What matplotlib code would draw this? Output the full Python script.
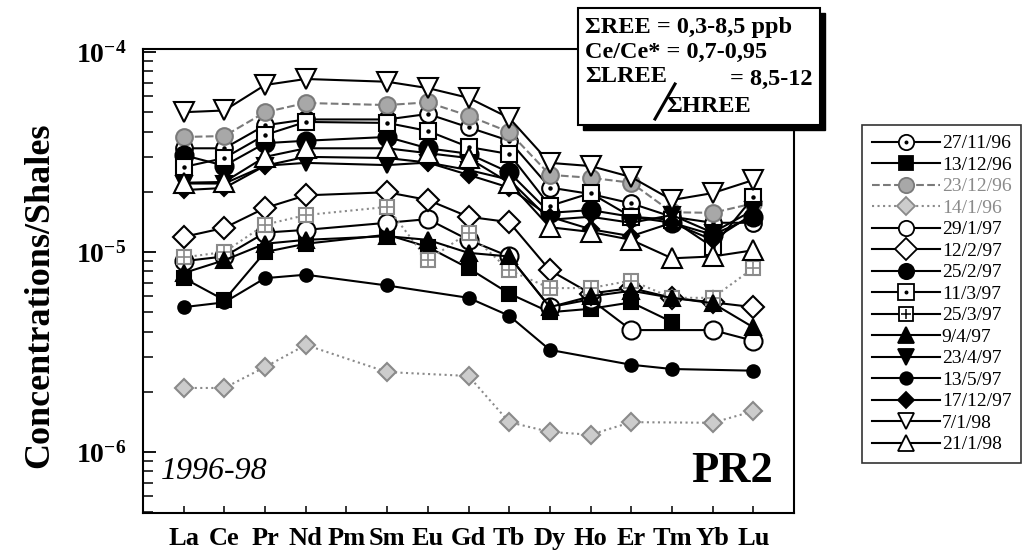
import numpy as np
import matplotlib
matplotlib.use("Agg")
import matplotlib.pyplot as plt
from matplotlib.lines import Line2D
from matplotlib.patches import Rectangle
from matplotlib.ticker import LogLocator, NullFormatter

plt.rcParams['font.family'] = ['Liberation Serif', 'DejaVu Serif']
plt.rcParams['mathtext.fontset'] = 'custom'
plt.rcParams['mathtext.rm'] = 'Liberation Serif'
plt.rcParams['mathtext.bf'] = 'Liberation Serif:bold'

# ---- data (normalised to shales), nan = not measured ----
elements = ['La', 'Ce', 'Pr', 'Nd', 'Pm', 'Sm', 'Eu', 'Gd', 'Tb', 'Dy', 'Ho', 'Er', 'Tm', 'Yb', 'Lu']
nan = np.nan

s27_11_96 = [3.3e-5, 3.3e-5, 4.3e-5, 4.6e-5, nan, 4.6e-5, 4.9e-5, 4.2e-5, 3.6e-5, 2.1e-5, 1.95e-5, 1.75e-5, 1.5e-5, 1.4e-5, 1.4e-5]
s13_12_96 = [7.4e-6, 5.75e-6, 1.0e-5, 1.1e-5, nan, 1.22e-5, 1.06e-5, 8.3e-6, 6.2e-6, 5.0e-6, 5.2e-6, 5.6e-6, 4.47e-6, nan, nan]
s23_12_96 = [3.76e-5, 3.8e-5, 5.0e-5, 5.56e-5, nan, 5.43e-5, 5.6e-5, 4.8e-5, 3.98e-5, 2.43e-5, 2.35e-5, 2.22e-5, 1.58e-5, 1.57e-5, 1.75e-5]
s14_1_96 = [2.09e-6, 2.09e-6, 2.66e-6, 3.43e-6, nan, 2.51e-6, nan, 2.4e-6, 1.41e-6, 1.26e-6, 1.22e-6, 1.41e-6, nan, 1.4e-6, 1.6e-6]
s29_1_97 = [9.0e-6, 9.5e-6, 1.25e-5, 1.29e-5, nan, 1.4e-5, 1.46e-5, 1.15e-5, 9.5e-6, 5.3e-6, 5.8e-6, 4.07e-6, nan, 4.07e-6, 3.6e-6]
s12_2_97 = [1.19e-5, 1.32e-5, 1.66e-5, 1.92e-5, nan, 1.99e-5, 1.82e-5, 1.5e-5, 1.41e-5, 8.1e-6, 6.2e-6, 6.6e-6, 5.9e-6, 5.6e-6, 5.3e-6]
s25_2_97 = [3.05e-5, 2.7e-5, 3.5e-5, 3.6e-5, nan, 3.76e-5, 3.3e-5, 3.1e-5, 2.5e-5, 1.57e-5, 1.62e-5, 1.5e-5, 1.4e-5, 1.22e-5, 1.5e-5]
s11_3_97 = [2.66e-5, 2.95e-5, 3.85e-5, 4.47e-5, nan, 4.42e-5, 4.03e-5, 3.35e-5, 3.09e-5, 1.7e-5, 1.97e-5, 1.5e-5, 1.45e-5, 1.06e-5, 1.88e-5]
s25_3_97 = [9.4e-6, 1.0e-5, 1.37e-5, 1.53e-5, nan, 1.68e-5, 9.1e-6, 1.25e-5, 8.1e-6, 6.6e-6, 6.6e-6, 7.2e-6, 5.9e-6, 5.9e-6, 8.3e-6]
s9_4_97 = [7.85e-6, 9.1e-6, 1.1e-5, 1.15e-5, nan, 1.2e-5, 1.15e-5, 9.9e-6, 9.5e-6, 5.3e-6, 6.0e-6, 6.4e-6, 5.9e-6, 5.55e-6, 4.2e-6]
s23_4_97 = [2.2e-5, 2.2e-5, 2.7e-5, 2.79e-5, nan, 2.72e-5, 2.8e-5, 2.57e-5, 2.3e-5, 1.45e-5, 1.5e-5, 1.4e-5, 1.53e-5, 1.25e-5, 1.62e-5]
s13_5_97 = [5.3e-6, 5.6e-6, 7.4e-6, 7.7e-6, nan, 6.8e-6, nan, 5.9e-6, 4.8e-6, 3.24e-6, nan, 2.73e-6, 2.6e-6, nan, 2.55e-6]
s17_12_97 = [2.04e-5, 2.09e-5, 2.7e-5, 2.99e-5, nan, 2.95e-5, 2.8e-5, 2.43e-5, 2.1e-5, 1.5e-5, 1.3e-5, 1.2e-5, 1.4e-5, 1.15e-5, 1.55e-5]
s7_1_98 = [5.0e-5, 5.1e-5, 6.84e-5, 7.33e-5, nan, 7.1e-5, 6.6e-5, 5.9e-5, 4.68e-5, 2.79e-5, 2.69e-5, 2.37e-5, 1.82e-5, 1.97e-5, 2.29e-5]
s21_1_98 = [2.22e-5, 2.24e-5, 2.99e-5, 3.3e-5, nan, 3.3e-5, 3.12e-5, 2.95e-5, 2.22e-5, 1.33e-5, 1.26e-5, 1.15e-5, 9.3e-6, 9.5e-6, 1.02e-5]

labels = ['27/11/96', '13/12/96', '23/12/96', '14/1/96', '29/1/97', '12/2/97', '25/2/97', '11/3/97',
          '25/3/97', '9/4/97', '23/4/97', '13/5/97', '17/12/97', '7/1/98', '21/1/98']
series = [s27_11_96, s13_12_96, s23_12_96, s14_1_96, s29_1_97, s12_2_97, s25_2_97, s11_3_97,
          s25_3_97, s9_4_97, s23_4_97, s13_5_97, s17_12_97, s7_1_98, s21_1_98]

# style per series: marker, size, face, edge, line colour, linestyle, overlay marker
W = 'white'
K = 'black'
styles = [
    ('o', 12, W, K, K, '-', '.'),
    ('s', 10, K, K, K, '-', None),
    ('o', 12, '#a8a8a8', '#7a7a7a', '#7a7a7a', '--', None),
    ('D', 9, '#cccccc', '#8a8a8a', '#8a8a8a', ':', None),
    ('o', 13, W, K, K, '-', None),
    ('D', 11, W, K, K, '-', None),
    ('o', 13, K, K, K, '-', None),
    ('s', 11, W, K, K, '-', '.'),
    ('s', 10, W, '#8a8a8a', '#8a8a8a', ':', '+'),
    ('^', 11, K, K, K, '-', None),
    ('v', 11, K, K, K, '-', None),
    ('o', 9, K, K, K, '-', None),
    ('D', 8, K, K, K, '-', None),
    ('v', 15, W, K, K, '-', None),
    ('^', 14, W, K, K, '-', None),
]

fig = plt.figure(figsize=(10.24, 5.57), dpi=100)
ax = fig.add_axes([143/1024, 44/557, (794-143)/1024, (513-49)/557])

x = np.arange(len(elements))
for vals, st in zip(series, styles):
    mk, ms, fc, ec, lc, ls, over = st
    v = np.array(vals, dtype=float)
    m = ~np.isnan(v)
    ax.plot(x[m], v[m], color=lc, ls=ls, lw=1.5, marker=mk, ms=ms,
            mfc=fc, mec=ec, mew=1.5)
    if over is not None:
        ax.plot(x[m], v[m], ls='none', marker=over, ms=4 if over == '.' else 8,
                color=ec, mew=1.2)

ax.set_yscale('log')
ax.set_ylim(10**-6.305, 10**-3.985)
ax.set_xlim(-1, 15)
ax.set_yticks([1e-6, 1e-5, 1e-4])
ax.set_yticklabels([r'$\mathbf{10^{-6}}$', r'$\mathbf{10^{-5}}$', r'$\mathbf{10^{-4}}$'], fontsize=20)
ax.yaxis.set_minor_locator(LogLocator(base=10, subs=np.arange(2, 10)))
ax.yaxis.set_minor_formatter(NullFormatter())
ax.set_xticks(x)
ax.set_xticklabels(elements, fontsize=19, fontweight='bold')
ax.tick_params(axis='y', which='major', direction='in', length=9, width=1.3, pad=12)
ax.tick_params(axis='y', which='minor', direction='in', length=7, width=1.1)
ax.tick_params(axis='x', direction='in', length=5, width=1.1, pad=10)
for sp in ax.spines.values():
    sp.set_linewidth(1.5)

ax.text(0.028, 0.09, '1996-98', transform=ax.transAxes, fontsize=23, style='italic',
        ha='left', va='center')
ax.text(0.968, 0.09, 'PR2', transform=ax.transAxes, fontsize=32, fontweight='bold',
        ha='right', va='center')

fig.text(40/1024, 1-295/557, 'Concentrations/Shales', rotation=90, fontsize=26,
         fontweight='bold', ha='center', va='center')

# ---- info box with shadow ----
bx0, by0, bx1, by1 = 578, 8, 820, 125   # pixels from top-left


def fx(px):
    return px / 1024


def fy(py):
    return 1 - py / 557


fig.patches.append(Rectangle((fx(bx0+5), fy(by1+5)), fx(bx1-bx0), (by1-by0)/557,
                             transform=fig.transFigure, facecolor=K, edgecolor=K, zorder=5))
fig.patches.append(Rectangle((fx(bx0), fy(by1)), fx(bx1-bx0), (by1-by0)/557,
                             transform=fig.transFigure, facecolor=W, edgecolor=K, lw=1.5, zorder=6))
tkw = dict(fontsize=17.5, fontweight='bold', va='center', zorder=7)
fig.text(fx(585), fy(27), '\u03a3REE = 0,3-8,5 ppb', ha='left', **tkw)
fig.text(fx(585), fy(52), 'Ce/Ce* = 0,7-0,95', ha='left', **tkw)
fig.text(fx(585), fy(77), '\u03a3LREE', ha='left', **tkw)
fig.text(fx(666), fy(106), '\u03a3HREE', ha='left', **tkw)
fig.text(fx(813), fy(79), '= 8,5-12', ha='right', **tkw)
fig.lines.append(Line2D([fx(655), fx(675)], [fy(119), fy(84)], transform=fig.transFigure,
                        color=K, lw=2.2, zorder=7))

# ---- legend ----
handles = []
for st in styles:
    mk, ms, fc, ec, lc, ls, over = st
    lms = min(ms, 11)
    if labels[len(handles)] == '25/3/97':
        fc, ec, lc, ls = W, K, K, '-'
    h = Line2D([], [], color=lc, ls=ls, lw=1.5, marker=mk, ms=lms, mfc=fc, mec=ec, mew=1.3)
    if over is not None:
        h2 = Line2D([], [], ls='none', marker=over, ms=3.5 if over == '.' else 7, color=ec, mew=1.1)
        h = (h, h2)
    handles.append(h)

leg = fig.legend(handles, labels, loc='upper left', bbox_to_anchor=(862/1024, 1-125/557),
                 frameon=True, fancybox=False, edgecolor=K, fontsize=14, labelspacing=0.2,
                 handlelength=3.5, handletextpad=0.1, borderpad=0.5, borderaxespad=0)
leg.get_frame().set_linewidth(1.2)
for t, lab in zip(leg.get_texts(), labels):
    if lab in ('23/12/96', '14/1/96'):
        t.set_color('#8a8a8a')

fig.savefig('out.png', dpi=100)
